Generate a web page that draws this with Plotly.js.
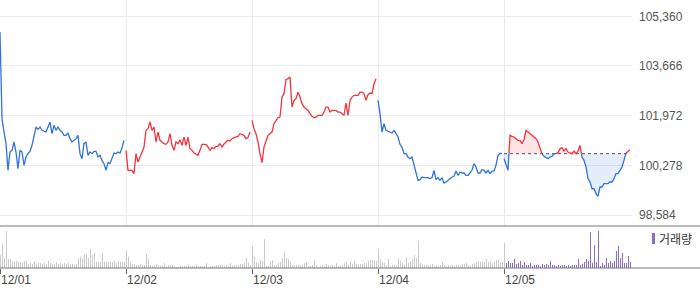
<!DOCTYPE html>
<html><head><meta charset="utf-8">
<script src="https://cdn.plot.ly/plotly-3.0.1.min.js"></script>
<style>html,body{margin:0;padding:0;background:#fff;}#chart{width:700px;height:289px;}</style>
</head><body><div id="chart"></div>
<script>
// ---------- data ----------
const dayLabels = ['12/01','12/02','12/03','12/04','12/05'];
const priceTicks = [98584, 100278, 101972, 103666, 105360];
const prevClose = 100676;   // previous close (reference line of the last day)

const price1 = [104821,101869,101414,101017,100108,100732,100789,101073,100732,100164,100789,100732,100278,100562,100676,100755,100960,101300,101584,101505,101584,101471,101437,101414,101584,101755,101357,101641,101471,101584,101471,101414,101300,101300,101380,101187,101073,101130,101187,101300,100676,100505,101017,101073,100619,100732,100676,100755,100755,100562,100619,100448,100335,100108,100369,100335,100505,100698,100676,100732,100698,100869,101130];
const price2 = [100789,100108,100108,100108,99994,100676,100392,100562,100732,100903,101471,101528,101755,101471,101584,101073,101414,101130,101073,101017,100994,101073,101357,100960,100789,101073,101017,101153,100960,101243,100960,101243,100846,100789,100698,100653,100619,100789,100994,100994,100982,100903,100789,100880,100846,100926,100926,101017,100903,101004,101073,101130,101106,101187,101222,101243,101266,101357,101334,101300,101187,101222,101414];
const price3 = [101812,101528,101357,101073,100676,100370,100903,101130,101300,101357,101414,101699,101812,101904,101924,102606,102722,103199,103233,103287,102265,102493,102551,102776,102606,102381,102265,102210,102152,102040,101948,101904,101924,101982,101982,101982,102095,102265,102265,102095,102152,102152,102152,102095,102095,102040,101982,102401,101982,102493,102606,102664,102664,102664,102776,102776,102722,102493,102687,102742,102722,103060,103233];
const price4 = [102493,102040,101414,101699,101471,101447,101414,101379,101471,101357,101243,100994,100903,100676,100676,100562,100505,100562,100278,99994,99767,99790,99880,99858,99858,99858,99824,99858,100108,99790,99858,99767,99858,99676,99710,99767,99824,99880,99903,100085,99937,100051,100017,100017,99937,99937,100017,100108,100335,100221,100017,100017,100130,100108,100017,100108,99994,100074,100085,100278,100619,100690,100676];
const price5 = [100506,100335,100108,101300,101266,101243,101187,101130,101130,101017,101153,101471,101414,101357,101300,101243,101187,101073,100903,100676,100585,100540,100506,100562,100585,100676,100676,100710,100846,100880,100766,100846,100732,100699,100676,100766,100676,100766,100960,100562,100448,100221,99824,99710,99480,99483,99312,99221,99539,99539,99653,99653,99653,99710,99710,99824,99994,99994,100108,100221,100448,100699,100760,100813];

const vol1 = [127,237,100,360,90,90,60,70,70,60,60,50,70,70,40,50,40,70,40,50,50,40,50,40,70,50,40,40,60,40,50,40,50,40,50,40,40,30,40,100,110,100,130,140,100,190,130,150,60,60,60,150,60,60,60,70,60,70,50,70,60,60,60];
const vol2 = [180,110,60,40,40,30,30,40,30,30,140,90,30,20,30,40,30,20,30,50,20,30,30,30,20,10,10,20,20,20,20,30,20,20,20,30,20,20,20,20,50,10,20,20,20,30,30,30,30,20,30,20,50,20,30,20,30,40,40,50,100,50,30];
const vol3 = [210,110,60,50,80,70,280,20,20,60,80,30,30,50,60,100,160,100,90,60,30,30,30,30,20,30,50,60,20,20,30,80,30,10,20,30,20,40,30,20,30,20,50,20,20,30,50,60,30,70,40,70,40,30,40,40,50,50,70,80,80,80,70];
const vol4 = [190,90,60,50,30,90,20,30,30,30,100,70,50,30,110,50,70,90,130,100,260,50,30,30,30,20,30,40,20,30,20,30,60,30,20,30,20,30,20,30,30,30,40,40,50,30,20,40,50,60,70,60,70,60,90,60,70,50,60,80,80,60,60];
const vol5 = [240,50,70,50,50,90,40,50,70,30,60,30,30,50,20,30,30,30,20,40,30,40,30,70,30,30,20,30,20,30,30,20,30,20,30,30,30,90,30,40,60,90,70,350,50,220,60,360,20,50,30,100,50,70,50,70,170,210,100,150,50,50,120,60,140];

// ---------- styling ----------
const PER_DAY = 63;
const RED = '#f2343f', BLUE = '#2f73da';
const GRAY = '#c9c9ce', PURPLE = '#8a6cc2';
const FONT = 'Liberation Sans, Arial, sans-serif';
const dayColors = [BLUE, RED, RED, BLUE];

const traces = [];

// volume bars
const vol = [].concat(vol1, vol2, vol3, vol4, vol5);
const volX = vol.map((_, i) => i);
const volColors = vol.map((_, i) => i <= 4 * PER_DAY ? GRAY : PURPLE);
traces.push({type:'bar', x:volX, y:vol, xaxis:'x', yaxis:'y', width:0.5,
  marker:{color:volColors, line:{width:0}}, hoverinfo:'skip'});

// days 1-4
[price1, price2, price3, price4].forEach((p, k) => {
  traces.push({type:'scatter', mode:'lines', x:p.map((_, j) => k*PER_DAY + j), y:p,
    xaxis:'x2', yaxis:'y2', line:{color:dayColors[k], width:1.3}, hoverinfo:'skip'});
});

// day 5: split around previous close
const x5 = price5.map((_, j) => 4*PER_DAY + j);
const X = [], Y = [];
for (let i = 0; i < x5.length; i++) {
  if (i > 0) {
    const a = price5[i-1] - prevClose, b = price5[i] - prevClose;
    if (a * b < 0) { const t = a / (a - b); X.push(x5[i-1] + t*(x5[i]-x5[i-1])); Y.push(prevClose); }
  }
  X.push(x5[i]); Y.push(price5[i]);
}
const baseY = X.map(() => prevClose);
traces.push({type:'scatter', mode:'lines', x:X, y:baseY, xaxis:'x2', yaxis:'y2', line:{width:0}, hoverinfo:'skip'});
traces.push({type:'scatter', mode:'lines', x:X, y:Y.map(v => Math.max(v, prevClose)), xaxis:'x2', yaxis:'y2',
  fill:'tonexty', fillcolor:'rgba(242,52,63,0.13)', line:{width:0}, hoverinfo:'skip'});
traces.push({type:'scatter', mode:'lines', x:X, y:baseY, xaxis:'x2', yaxis:'y2', line:{width:0}, hoverinfo:'skip'});
traces.push({type:'scatter', mode:'lines', x:X, y:Y.map(v => Math.min(v, prevClose)), xaxis:'x2', yaxis:'y2',
  fill:'tonexty', fillcolor:'rgba(47,115,218,0.13)', line:{width:0}, hoverinfo:'skip'});
traces.push({type:'scatter', mode:'lines', x:[x5[0], x5[x5.length-1]], y:[prevClose, prevClose], xaxis:'x2', yaxis:'y2',
  line:{color:'#555', width:1, dash:'dot'}, hoverinfo:'skip'});
traces.push({type:'scatter', mode:'lines', x:X, y:Y.map(v => v >= prevClose ? v : null), xaxis:'x2', yaxis:'y2',
  connectgaps:false, line:{color:RED, width:1.3}, hoverinfo:'skip'});
traces.push({type:'scatter', mode:'lines', x:X, y:Y.map(v => v <= prevClose ? v : null), xaxis:'x2', yaxis:'y2',
  connectgaps:false, line:{color:BLUE, width:1.3}, hoverinfo:'skip'});

const plotW = 632, plotH = 268;
const split = 42 / plotH;
const xRange = [0, 316];
const dayTicks = dayLabels.map((_, k) => k * PER_DAY);

// day labels as left-aligned annotations next to each tick
const dayAnn = dayLabels.map((t, k) => ({
  xref:'x', yref:'paper', x:dayTicks[k], y:(plotH - 280)/plotH, xanchor:'left', yanchor:'middle',
  xshift:-1, text:t, showarrow:false, font:{family:FONT, size:12, color:'#444'}
}));

const layout = {
  width:700, height:289, margin:{l:0, r:700-plotW, t:0, b:289-plotH, pad:0},
  paper_bgcolor:'#fff', plot_bgcolor:'#fff', showlegend:false, bargap:0,
  xaxis:{domain:[0,1], anchor:'y', range:xRange, tickvals:dayTicks, showticklabels:false,
    ticks:'outside', ticklen:5, tickcolor:'#666', tickwidth:1,
    showgrid:false, zeroline:false, showline:false},
  xaxis2:{domain:[0,1], anchor:'y2', range:xRange, tickvals:dayTicks.slice(1), showticklabels:false,
    ticks:'', showgrid:true, gridcolor:'#ebebeb', gridwidth:1, zeroline:false, showline:false},
  yaxis:{domain:[0, split], anchor:'x', range:[0, 410], showgrid:false, showticklabels:false,
    zeroline:false, ticks:''},
  yaxis2:{domain:[split, 1], anchor:'x2', side:'right', range:[98209, 105916], tickvals:priceTicks,
    tickformat:',d', showgrid:true, gridcolor:'#ebebeb', gridwidth:1, zeroline:false, showline:false,
    ticks:'', ticklabelstandoff:6, tickfont:{family:FONT, size:12, color:'#555'}},
  shapes:[
    {type:'line', xref:'paper', yref:'paper', x0:0, x1:700/plotW, y0:split, y1:split, line:{color:'#777', width:1}},
    {type:'line', xref:'paper', yref:'paper', x0:0, x1:700/plotW, y0:0, y1:0, line:{color:'#777', width:1}},
    {type:'rect', xref:'paper', yref:'paper', x0:652/plotW, x1:655/plotW, y0:(plotH-244)/plotH, y1:(plotH-233)/plotH,
      fillcolor:PURPLE, line:{width:0}}
  ],
  annotations:[
    {xref:'paper', yref:'paper', x:657/plotW, y:(plotH-238.5)/plotH, xanchor:'left', yanchor:'middle',
      text:'거래량', showarrow:false, font:{family:'Noto Sans CJK KR, sans-serif', size:12, color:'#333'}}
  ].concat(dayAnn)
};

Plotly.newPlot('chart', traces, layout, {staticPlot:true, displayModeBar:false});
</script>
</body></html>
